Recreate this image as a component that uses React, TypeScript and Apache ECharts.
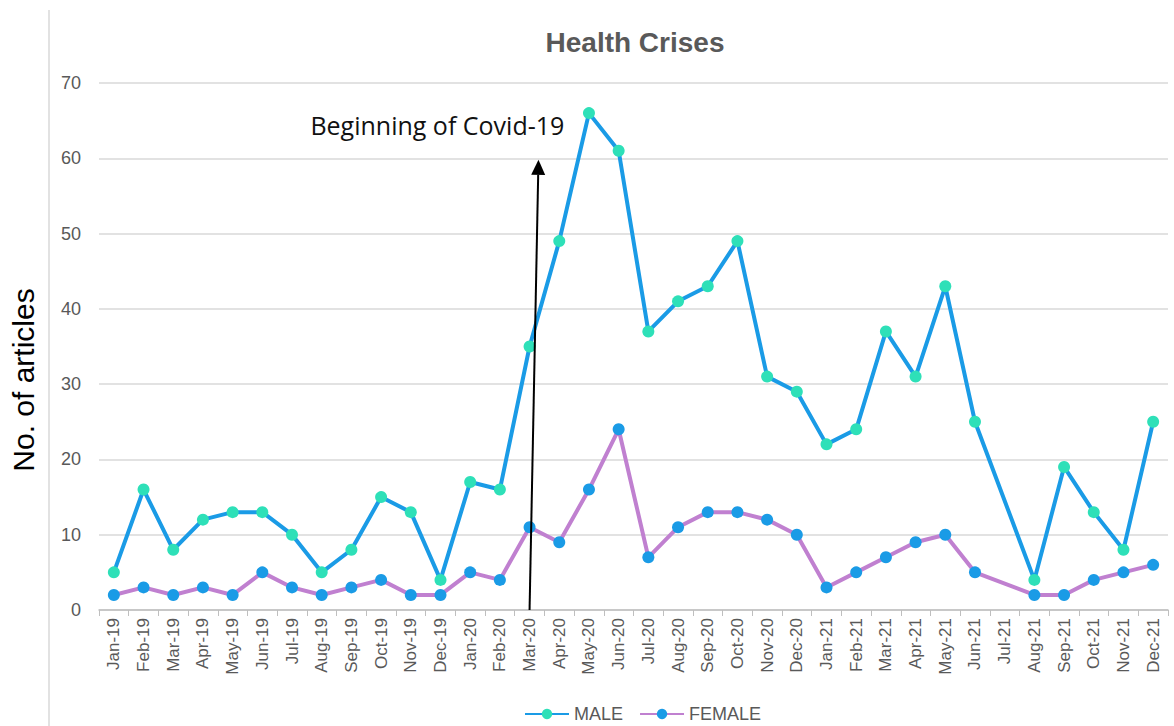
import React, { useEffect, useRef } from "react";
import * as echarts from "echarts";

const categories = [
  "Jan-19","Feb-19","Mar-19","Apr-19","May-19","Jun-19","Jul-19","Aug-19","Sep-19","Oct-19","Nov-19","Dec-19",
  "Jan-20","Feb-20","Mar-20","Apr-20","May-20","Jun-20","Jul-20","Aug-20","Sep-20","Oct-20","Nov-20","Dec-20",
  "Jan-21","Feb-21","Mar-21","Apr-21","May-21","Jun-21","Jul-21","Aug-21","Sep-21","Oct-21","Nov-21","Dec-21",
];
const maleValues: (number | null)[] = [
  5, 16, 8, 12, 13, 13, 10, 5, 8, 15, 13, 4,
  17, 16, 35, 49, 66, 61, 37, 41, 43, 49, 31, 29,
  22, 24, 37, 31, 43, 25, null, 4, 19, 13, 8, 25,
];
const femaleValues: (number | null)[] = [
  2, 3, 2, 3, 2, 5, 3, 2, 3, 4, 2, 2,
  5, 4, 11, 9, 16, 24, 7, 11, 13, 13, 12, 10,
  3, 5, 7, 9, 10, 5, null, 2, 2, 4, 5, 6,
];
const yAxisTitle = "No. of articles";
const annotationText = "Beginning of Covid-19";
const arrowIndex = 14;
const arrowTopValue = 59.8;
const arrowTopShift = 0.3; // fraction of a category band
const textValue = 64.4;
const textRightShift = 1.17; // in category bands, right edge of text

export default function App() {
  const ref = useRef<HTMLDivElement>(null);
  useEffect(() => {
    if (!ref.current) return;
    const chart = echarts.init(ref.current, null, { renderer: "svg" });
    const gray = "#595959";
    chart.setOption({
      animation: false,
      backgroundColor: "#ffffff",
      title: {
        text: "Health Crises",
        left: 630,
        textAlign: "center",
        top: 23,
        textStyle: { fontFamily: "Liberation Sans", fontSize: 28, fontWeight: "bold", color: gray },
      },
      legend: {
        top: 700,
        left: 519,
        itemWidth: 44,
        itemHeight: 13,
        itemGap: 16,
        textStyle: { fontFamily: "Liberation Sans", fontSize: 18, color: gray },
        data: ["MALE", "FEMALE"],
      },
      grid: { left: 99, right: 6, top: 83, bottom: 116, containLabel: false },
      xAxis: {
        type: "category",
        data: categories,
        boundaryGap: true,
        axisLine: { lineStyle: { color: "#bfbfbf", width: 1.5 } },
        axisTick: { show: true, length: 6, lineStyle: { color: "#bfbfbf" } },
        axisLabel: {
          rotate: 90,
          interval: 0,
          fontFamily: "Liberation Sans",
          fontSize: 17,
          color: gray,
          margin: 8,
        },
      },
      yAxis: {
        type: "value",
        min: 0,
        max: 70,
        interval: 10,
        axisLine: { show: false },
        axisTick: { show: false },
        axisLabel: { fontFamily: "Liberation Sans", fontSize: 18, color: gray, margin: 18 },
        splitLine: { lineStyle: { color: "#d9d9d9", width: 1.5 } },
      },
      series: [
        {
          name: "MALE",
          type: "line",
          data: maleValues,
          connectNulls: true,
          symbol: "circle",
          symbolSize: 12,
          lineStyle: { color: "#1a9be6", width: 4 },
          itemStyle: { color: "#2ee0b8" },
          z: 3,
        },
        {
          name: "FEMALE",
          type: "line",
          data: femaleValues,
          connectNulls: true,
          symbol: "circle",
          symbolSize: 12,
          lineStyle: { color: "#c080d0", width: 4 },
          itemStyle: { color: "#1a9be6" },
          z: 2,
        },
      ],
    });

    const p0 = chart.convertToPixel({ gridIndex: 0 }, [arrowIndex, 0]) as number[];
    const pNext = chart.convertToPixel({ gridIndex: 0 }, [arrowIndex + 1, 0]) as number[];
    const band = pNext[0] - p0[0];
    const pTopV = chart.convertToPixel({ gridIndex: 0 }, [arrowIndex, arrowTopValue]) as number[];
    const pTextV = chart.convertToPixel({ gridIndex: 0 }, [arrowIndex, textValue]) as number[];
    const p1 = [p0[0] + band * arrowTopShift, pTopV[1]];
    const dx = p1[0] - p0[0];
    const dy = p1[1] - p0[1];
    const len = Math.sqrt(dx * dx + dy * dy);
    const ux = dx / len, uy = dy / len;
    const headLen = 15, headW = 7;
    const baseX = p1[0] - ux * headLen, baseY = p1[1] - uy * headLen;
    chart.setOption({
      graphic: [
        {
          type: "line",
          shape: { x1: 49, y1: 10, x2: 49, y2: 726 },
          style: { stroke: "#d9d9d9", lineWidth: 1.5 },
        },
        {
          type: "text",
          x: 23,
          y: 380,
          rotation: Math.PI / 2,
          style: {
            text: yAxisTitle,
            fontFamily: "Liberation Sans",
            fontSize: 30,
            fill: "#000000",
            align: "center",
            verticalAlign: "middle",
          },
        },
        {
          type: "line",
          shape: { x1: p0[0], y1: p0[1], x2: baseX, y2: baseY },
          style: { stroke: "#000000", lineWidth: 2 },
          z: 10,
        },
        {
          type: "polygon",
          shape: {
            points: [
              [p1[0], p1[1]],
              [baseX - uy * headW, baseY + ux * headW],
              [baseX + uy * headW, baseY - ux * headW],
            ],
          },
          style: { fill: "#000000" },
          z: 10,
        },
        {
          type: "text",
          x: p0[0] + band * textRightShift,
          y: pTextV[1],
          style: {
            text: annotationText,
            fontFamily: "Open Sans",
            fontSize: 25,
            fill: "#111111",
            align: "right",
            verticalAlign: "middle",
          },
          z: 10,
        },
      ],
    });
    return () => chart.dispose();
  }, []);
  return <div ref={ref} style={{ width: 1174, height: 726, position: "absolute", left: 0, top: 0 }} />;
}
